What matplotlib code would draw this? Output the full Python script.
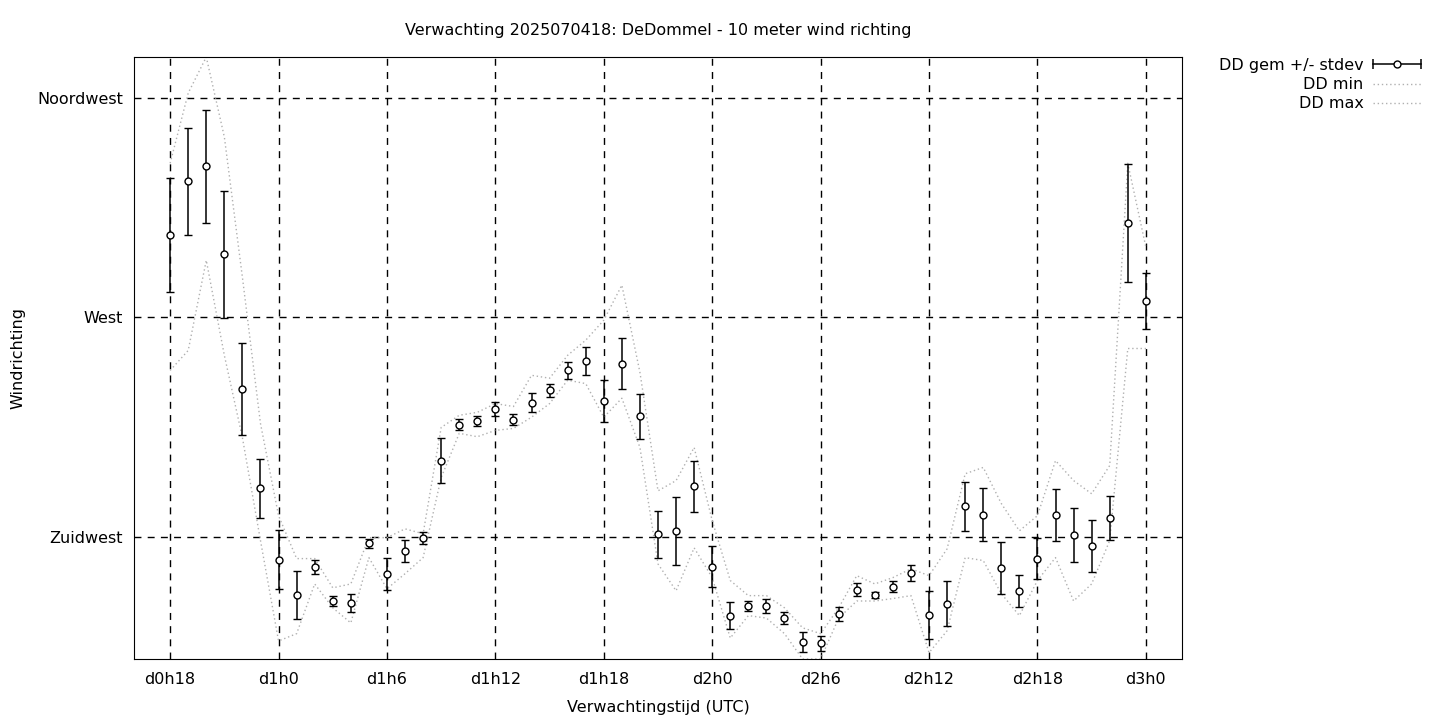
import matplotlib

matplotlib.use("Agg")
import matplotlib.pyplot as plt
import numpy as np
from matplotlib.lines import Line2D
from matplotlib.legend_handler import HandlerLine2D

# lead time in hours after d0h0 (one value per hour, d0h18 .. d3h0)
lead_hours = np.arange(18, 73)

dd_mean = [286.8, 297.9, 301.0, 282.9, 255.3, 234.9, 220.3, 213.1, 218.8, 211.8,
           211.4, 223.6, 217.4, 222.1, 224.7, 240.6, 248.0, 248.8, 251.2, 249.0,
           252.5, 255.0, 259.1, 261.0, 252.9, 260.5, 249.7, 225.5, 226.2, 235.3,
           218.8, 208.8, 210.8, 210.8, 208.3, 203.4, 203.1, 209.1, 214.1, 213.1,
           214.7, 217.5, 209.0, 211.2, 231.2, 229.5, 218.6, 213.9, 220.5, 229.5,
           225.3, 223.1, 228.8, 289.3, 273.4]

dd_std = [11.7, 11.0, 11.6, 13.0, 9.5, 6.0, 6.0, 4.9, 1.4, 1.0,
          1.9, 1.0, 3.3, 2.3, 1.2, 4.6, 1.2, 1.0, 1.5, 1.1,
          1.9, 1.3, 1.8, 2.9, 4.3, 5.2, 4.6, 4.8, 7.0, 5.2,
          4.2, 2.7, 1.1, 1.4, 1.3, 2.0, 1.6, 1.4, 1.3, 0.6,
          1.1, 1.6, 4.9, 4.6, 5.1, 5.4, 5.3, 3.3, 4.2, 5.3,
          5.5, 5.3, 4.5, 12.1, 5.7]

dd_min = [259.1, 263.2, 281.7, 262.2, 245.3, 224.2, 203.6, 205.1, 215.3, 210.4,
          207.3, 220.7, 214.3, 217.4, 220.7, 237.1, 246.2, 245.5, 246.8, 247.2,
          249.5, 252.3, 257.1, 256.4, 249.5, 253.4, 243.3, 219.4, 213.9, 222.7,
          216.6, 204.2, 208.8, 208.3, 205.1, 199.9, 199.9, 208.3, 211.8, 211.8,
          212.3, 212.9, 201.2, 205.7, 220.7, 220.1, 213.3, 208.8, 216.0, 220.7,
          211.8, 215.3, 224.2, 263.6, 263.6]

dd_max = [301.6, 316.0, 323.4, 307.0, 278.2, 248.2, 229.3, 220.5, 220.5, 214.5,
          215.3, 224.8, 224.8, 226.6, 225.6, 247.4, 249.9, 250.5, 252.3, 251.7,
          258.1, 257.5, 262.2, 265.3, 269.4, 276.6, 258.7, 234.4, 236.5, 243.3,
          228.3, 216.0, 212.9, 212.9, 210.4, 206.3, 205.1, 210.4, 217.0, 215.3,
          216.6, 218.4, 217.0, 222.5, 237.9, 239.2, 231.8, 226.2, 229.3, 240.6,
          236.5, 233.8, 239.6, 301.6, 284.4]

x_ticks = [18, 24, 30, 36, 42, 48, 54, 60, 66, 72]
x_labels = ['d0h18', 'd1h0', 'd1h6', 'd1h12', 'd1h18', 'd2h0', 'd2h6', 'd2h12', 'd2h18', 'd3h0']
y_ticks = [225, 270, 315]
y_labels = ['Zuidwest', 'West', 'Noordwest']

FS = 11.5
dot_style = dict(color='#b0b0b0', lw=1.0, ls=(0, (1, 2)))

fig = plt.figure(figsize=(14.4, 7.2), dpi=100)
ax = fig.add_axes([134 / 1440, 1 - 659 / 720, 1048 / 1440, 602 / 720])

ax.plot(lead_hours, dd_min, **dot_style, zorder=2)
ax.plot(lead_hours, dd_max, **dot_style, zorder=2)
ax.errorbar(lead_hours, dd_mean, yerr=dd_std, fmt='o', color='k', ecolor='k',
            elinewidth=1.1, capsize=2.8, capthick=1.1, markersize=5,
            mfc='white', mec='k', mew=1.0, zorder=3)

ax.set_xlim(16, 74)
ax.set_ylim(min(dd_min), max(dd_max))
ax.set_xticks(x_ticks)
ax.set_xticklabels(x_labels, fontsize=FS)
ax.set_yticks(y_ticks)
ax.set_yticklabels(y_labels, fontsize=FS)
ax.tick_params(length=0, pad=9)
ax.tick_params(axis='y', pad=8)
ax.grid(True, color='k', lw=1.0, ls=(0, (5, 4.5)))
ax.set_axisbelow(True)

ax.set_title('Verwachting 2025070418: DeDommel - 10 meter wind richting', fontsize=FS, pad=16)
ax.set_xlabel('Verwachtingstijd (UTC)', fontsize=FS, labelpad=10)
ax.set_ylabel('Windrichting', fontsize=FS, va='center')
ax.yaxis.set_label_coords((18 - 134) / 1048, 0.5)

# legend: errorbar symbol drawn like gnuplot (horizontal bar with caps)
cap_line = Line2D([], [], color='k', lw=1.1, marker='|', markersize=7, mew=1.1)
circle = Line2D([], [], ls='none', marker='o', mfc='white', mec='k', markersize=5, mew=1.0)
min_line = Line2D([], [], **dot_style)
max_line = Line2D([], [], **dot_style)
fig.legend([(cap_line, circle), min_line, max_line],
           ['DD gem +/- stdev', 'DD min', 'DD max'],
           handler_map={cap_line: HandlerLine2D(numpoints=2, marker_pad=0),
                        circle: HandlerLine2D(numpoints=1)},
           loc='upper right', bbox_to_anchor=(1421 / 1440, 1 - 58 / 720),
           frameon=False, markerfirst=False, alignment='right', fontsize=FS,
           handlelength=3.0, handletextpad=0.6, labelspacing=0.26,
           borderpad=0, borderaxespad=0)

fig.savefig('out.png', dpi=100)
